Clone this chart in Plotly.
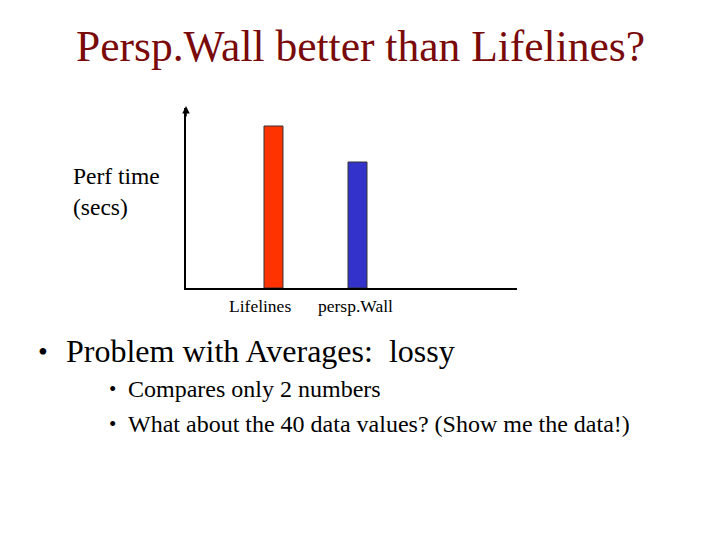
import plotly.graph_objects as go

# data
categories = ["Lifelines", "persp.Wall"]
perf_time = [9, 7]
bar_colors = ["#FF3300", "#3333CC"]
title_text = "Persp.Wall better than Lifelines?"
y_label_lines = ["Perf time", "(secs)"]
bullet_main = "Problem with Averages:  lossy"
bullet_subs = ["Compares only 2 numbers", "What about the 40 data values? (Show me the data!)"]

OFF = 8  # page body margin
W, H = 720 - OFF, 540 - OFF
L, R, T, B = 186, 517, 108, 288  # plot area in page pixels
SERIF = "Liberation Serif, Times New Roman, serif"


def px(x):
    return (x - L) / (R - L)


def py(y):
    return (B - y) / (B - T)


fig = go.Figure()
fig.add_trace(go.Bar(
    x=[0, 1], y=perf_time, width=0.226,
    marker=dict(color=bar_colors, line=dict(color="#333333", width=1)),
    showlegend=False, hoverinfo="skip",
))

unit = 84.0
x0 = -(273.5 - L) / unit
x1 = (R - 273.5) / unit

fig.update_layout(
    width=W, height=H,
    margin=dict(l=L - OFF, r=W - (R - OFF), t=T - OFF, b=H - (B - OFF), pad=0),
    paper_bgcolor="white", plot_bgcolor="white",
    font=dict(family=SERIF, color="black"),
    xaxis=dict(range=[x0, x1], showgrid=False, zeroline=False, showticklabels=False,
               showline=True, linecolor="black", linewidth=1.5, ticks=""),
    yaxis=dict(range=[0, 10], showgrid=False, zeroline=False, showticklabels=False,
               showline=True, linecolor="black", linewidth=1.5, ticks=""),
)

ann = []
# arrow at top of y axis
ann.append(dict(xref="paper", yref="paper", x=0, y=py(106), ax=0, ay=12,
                axref="pixel", ayref="pixel", showarrow=True, arrowhead=2,
                arrowsize=1, arrowwidth=1.5, arrowcolor="black", text=""))
# category labels
label_x = [260, 355]
for c, lx in zip(categories, label_x):
    ann.append(dict(xref="paper", yref="paper", x=px(lx), y=py(306),
                    text=c, showarrow=False, xanchor="center", yanchor="middle",
                    font=dict(family=SERIF, size=17.5, color="black")))
# title
ann.append(dict(xref="paper", yref="paper", x=px(360), y=py(46), text=title_text,
                showarrow=False, xanchor="center", yanchor="middle",
                font=dict(family=SERIF, size=43.5, color="#7A0A0A")))
# y label
ann.append(dict(xref="paper", yref="paper", x=px(71), y=py(191),
                text="<br>".join(y_label_lines), showarrow=False, xanchor="left",
                yanchor="middle", align="left",
                font=dict(family=SERIF, size=23.5, color="black")))
# bullets
ann.append(dict(xref="paper", yref="paper", x=px(43), y=py(351), text="\u2022",
                showarrow=False, xanchor="center", yanchor="middle",
                font=dict(family=SERIF, size=28, color="black")))
ann.append(dict(xref="paper", yref="paper", x=px(64), y=py(351),
                text=bullet_main, showarrow=False, xanchor="left",
                yanchor="middle", font=dict(family=SERIF, size=32, color="black")))
for k, s in enumerate(bullet_subs):
    yy = py(389 + 35 * k)
    ann.append(dict(xref="paper", yref="paper", x=px(112.5), y=yy, text="\u2022",
                    showarrow=False, xanchor="center", yanchor="middle",
                    font=dict(family=SERIF, size=21, color="black")))
    ann.append(dict(xref="paper", yref="paper", x=px(126), y=yy, text=s,
                    showarrow=False, xanchor="left", yanchor="middle",
                    font=dict(family=SERIF, size=24, color="black")))
fig.update_layout(annotations=ann)

fig.write_html("out.html")
